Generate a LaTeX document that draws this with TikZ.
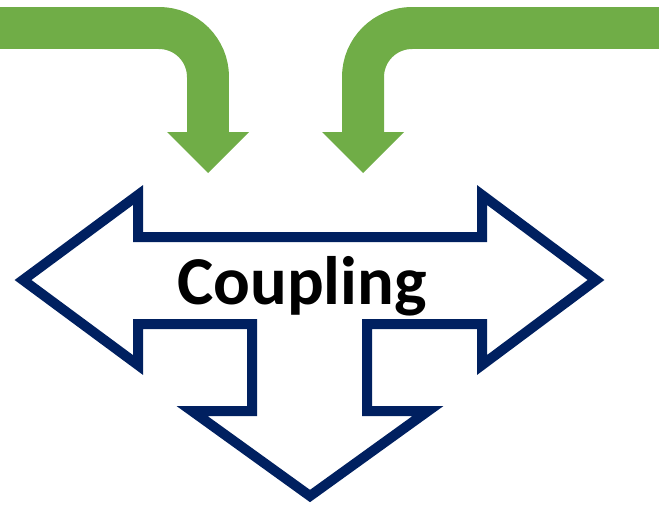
\documentclass[tikz,border=0pt]{standalone}
\usepackage{fontspec}
\setmainfont{Carlito}
\usepackage{tikz}
\usetikzlibrary{positioning}
\usepackage{xcolor}
\definecolor{leafgreen}{RGB}{112,173,71}
\definecolor{darknavy}{RGB}{0,32,96}

\begin{document}
\begin{tikzpicture}[x=0.02cm, y=-0.02cm,
    band/.style={draw=leafgreen, line width=0.84cm, rounded corners=0.98cm},
    head/.style={fill=leafgreen},
    outline/.style={draw=darknavy, fill=white, line width=0.2cm, line join=miter}]
          \useasboundingbox (0,0) rectangle (659,507);
          % green inputs
          \draw[band] (-10,28) -- (208,28) -- (208,134);
          \fill[head] (167,132) -- (249,132) -- (208,173) -- cycle;
          \draw[band] (669,28) -- (363,28) -- (363,134);
          \fill[head] (322,132) -- (404,132) -- (363,173) -- cycle;
          % three-way arrow
          \draw[outline] (23,280) -- (138,195) -- (138,237) -- (482,237) -- (482,195)
            -- (596,280) -- (482,365) -- (482,324) -- (367,324) -- (367,411)
            -- (428,411) -- (310,496) -- (192,411) -- (252,411) -- (252,324)
            -- (138,324) -- (138,365) -- cycle;
          \node[font=\bfseries\fontsize{39}{46}\selectfont, anchor=base,
                inner sep=0pt] (coup) at (302,304) {Coupling};
        \end{tikzpicture}
\end{document}
